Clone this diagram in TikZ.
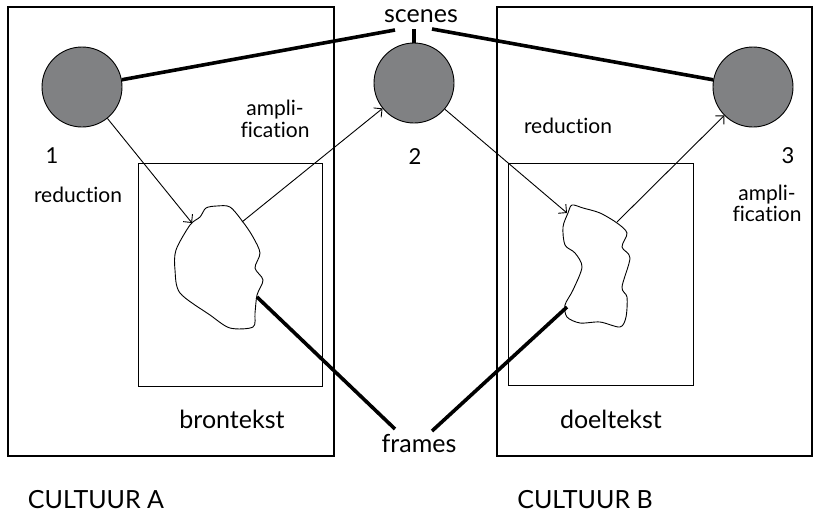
\documentclass[tikz,border=0pt]{standalone}
\usepackage{fontspec}
\setmainfont{Lato}[Ligatures=NoCommon]
\usetikzlibrary{arrows.meta}
\definecolor{scenegray}{RGB}{128,129,131}
\begin{document}
\begin{tikzpicture}[x=1pt,y=-1pt,
  culture/.style={draw=black,line width=2.4pt},
  textbox/.style={draw=black,line width=0.9pt},
  scene/.style={circle,draw=black,line width=0.9pt,fill=scenegray,minimum size=80pt,inner sep=0pt},
  blob/.style={draw=black,line width=0.9pt,fill=white},
  thick link/.style={line width=3.6pt},
  flow/.style={line width=0.9pt,-{Straight Barb[length=6pt,width=12pt,line width=0.9pt]}},
  big/.style={font=\fontsize{25}{28}\selectfont,anchor=base,inner sep=0pt},
  num/.style={font=\fontsize{22}{25}\selectfont,anchor=base,inner sep=0pt},
  small/.style={font=\fontsize{21}{22}\selectfont,anchor=base,inner sep=0pt},
]
\useasboundingbox (0,0) rectangle (815,512);
% culture frames
\draw[culture] (8,7) rectangle (334,456);
\draw[culture] (497,7) rectangle (812,456);
% text frames
\draw[textbox] (138,163) rectangle (322,386);
\draw[textbox] (508,163) rectangle (693,385);
% scenes
\node[scene] (c1) at (82,87) {};
\node[scene] (c2) at (414,83) {};
\node[scene] (c3) at (753,87) {};
% blobs
\draw[blob] plot[smooth cycle,tension=0.5] coordinates {
 (200,217) (206,208) (217,206) (230,207) (243,222) (253,237) (260,253)
 (255,268) (263,280) (257,295) (255,313) (253,327) (230,328) (210,315)
 (180,293) (175,270) (176,250) (190,225)};
\draw[blob] plot[smooth cycle,tension=0.5] coordinates {
 (572,205) (583,208) (600,213) (617,223) (627,233) (622,247) (630,258)
 (622,287) (627,297) (626,317) (620,327) (600,322) (580,323) (567,317)
 (565,305) (573,290) (582,267) (575,253) (565,245) (563,227) (568,213)};
% connection points on blobs
\coordinate (b1in) at (192,223);
\coordinate (b1out) at (242,222);
\coordinate (b1frame) at (257,297);
\coordinate (b2in) at (567,213);
\coordinate (b2out) at (617,222);
\coordinate (b2frame) at (567,307);
% labels
\node[big] (scenes) at (421,22) {scenes};
\node[big] (frames) at (419,452) {frames};
\node[big] (bron) at (232,428) {brontekst};
\node[big] (doel) at (611,428) {doeltekst};
\node[big] (cultA) at (96,508) {CULTUUR A};
\node[big] (cultB) at (585,508) {CULTUUR B};
\node[num] (n1) at (52,163) {1};
\node[num] (n2) at (415,164) {2};
\node[num] (n3) at (788,163) {3};
\node[small] (red1) at (78,202) {reduction};
\node[small] (red2) at (568,133) {reduction};
\node[small] (amp1) at (275,115) {ampli-};
\node[small] (fic1) at (275,137) {fication};
\node[small] (amp2) at (767,200) {ampli-};
\node[small] (fic2) at (767,221) {fication};
% brace of scenes
\coordinate (sL) at (395,30);
\coordinate (sM) at (414,29);
\coordinate (sR) at (432,29);
\draw[thick link] (c1) -- (sL);
\draw[thick link] (sR) -- (c3);
\draw[thick link] (sM) -- (c2);
% frames links
\coordinate (fL) at (395,429);
\coordinate (fR) at (432,431);
\draw[thick link] (b1frame) -- (fL);
\draw[thick link] (b2frame) -- (fR);
% flows
\draw[flow] (c1) -- (b1in);
\draw[flow] (b1out) -- (c2);
\draw[flow] (c2) -- (b2in);
\draw[flow] (b2out) -- (c3);
\end{tikzpicture}
\end{document}
